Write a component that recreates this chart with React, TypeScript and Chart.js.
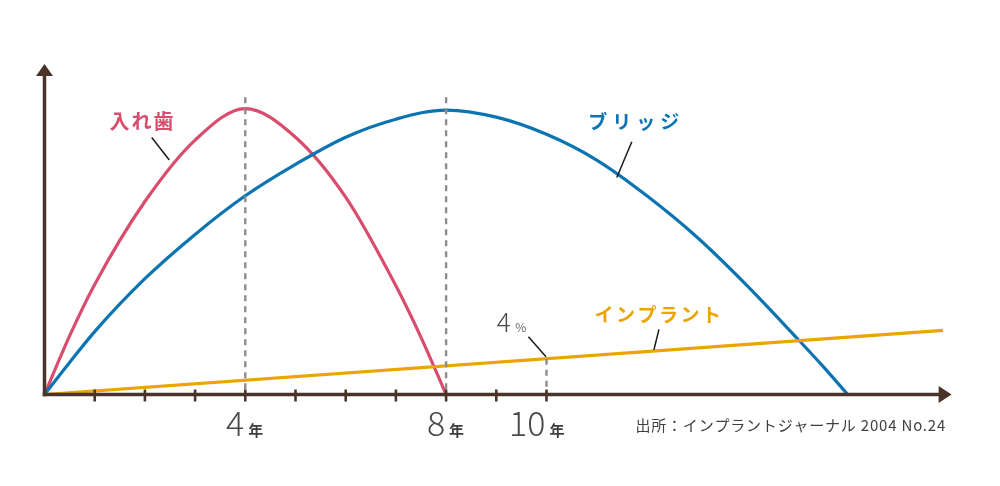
import { useEffect, useRef } from "react";
import { Chart, registerables, Plugin } from "chart.js";

Chart.register(...registerables);

// 入れ歯 (dentures): relative value per year
const dentureYears = [0, 0.5, 1, 2, 3, 4, 5, 6, 7, 7.5, 8];
const dentureValues = [0, 20.5, 38.5, 67.5, 89, 100, 90, 69, 38, 20, 0];

// ブリッジ (bridge)
const bridgeYears = [0, 0.5, 1, 2, 3, 4, 5, 6, 7, 8, 9, 10, 11, 12, 13, 14, 15, 15.5, 16];
const bridgeValues = [0, 11.2, 22, 40.5, 56, 69.5, 80.5, 90, 96.3, 99.5, 97, 91, 82, 69.5, 55, 38, 19.5, 10, 0];

// インプラント (implant)
const implantYears = [0, 17.9];
const implantValues = [0, 22.4];

const tickYears = [1, 2, 3, 4, 5, 6, 7, 8, 9, 10];
const labelYears = [4, 8, 10];
const labelNumbers = ["4", "8", "10"];
const guideYears = [4, 8];
const markerYear = 10;
const markerValue = 12.5;

const RED = "#d84d6e";
const BLUE = "#0b74b1";
const YELLOW = "#eba400";
const AXIS = "#4a3429";
const JP = "'Noto Sans CJK JP', 'Noto Sans', sans-serif";

const toPoints = (xs: number[], ys: number[]) => xs.map((x, i) => ({ x, y: ys[i] }));

const decorations: Plugin<"line"> = {
  id: "decorations",
  afterDatasetsDraw(chart) {
    const { ctx, chartArea } = chart;
    const X = (v: number) => chart.scales.x.getPixelForValue(v);
    const Y = (v: number) => chart.scales.y.getPixelForValue(v);
    const line = (x1: number, y1: number, x2: number, y2: number) => {
      ctx.beginPath();
      ctx.moveTo(x1, y1);
      ctx.lineTo(x2, y2);
      ctx.stroke();
    };
    const text = (
      s: string, x: number, y: number, font: string, color: string,
      align: CanvasTextAlign = "left", baseline: CanvasTextBaseline = "alphabetic", spacing = "0px"
    ) => {
      ctx.font = font;
      ctx.fillStyle = color;
      ctx.textAlign = align;
      ctx.textBaseline = baseline;
      (ctx as any).letterSpacing = spacing;
      ctx.fillText(s, x, y);
      (ctx as any).letterSpacing = "0px";
    };

    ctx.save();

    // dashed guides
    ctx.strokeStyle = "#8d8d8d";
    ctx.lineWidth = 2.4;
    ctx.setLineDash([6, 5]);
    guideYears.forEach((yr) => line(X(yr), Y(104), X(yr), Y(0)));
    line(X(markerYear), Y(markerValue), X(markerYear), Y(0));
    ctx.setLineDash([]);

    // axes with arrow heads
    const x0 = X(0);
    const y0 = Y(0);
    ctx.strokeStyle = AXIS;
    ctx.lineWidth = 3.5;
    line(x0 - 1.75, y0, chartArea.right - 12, y0);
    line(x0, y0 + 1.75, x0, chartArea.top + 11);
    ctx.fillStyle = AXIS;
    ctx.beginPath();
    ctx.moveTo(chartArea.right, y0);
    ctx.lineTo(chartArea.right - 13, y0 - 8.5);
    ctx.lineTo(chartArea.right - 13, y0 + 8.5);
    ctx.closePath();
    ctx.fill();
    ctx.beginPath();
    ctx.moveTo(x0, chartArea.top);
    ctx.lineTo(x0 - 8.5, chartArea.top + 12);
    ctx.lineTo(x0 + 8.5, chartArea.top + 12);
    ctx.closePath();
    ctx.fill();

    // tick marks
    ctx.lineWidth = 2.6;
    tickYears.forEach((yr) => line(X(yr), y0 - 5, X(yr), y0 + 7));

    // year labels
    labelYears.forEach((yr, i) => {
      text(labelNumbers[i], X(yr) - 1, Y(-14.6), `300 34px ${JP}`, "#4a4a4a", "right");
      text("年", X(yr) + 3, Y(-14.4), `bold 15px ${JP}`, "#3e3e3e", "left");
    });

    // leader lines
    ctx.strokeStyle = "#1a1a1a";
    ctx.lineWidth = 1.5;
    line(X(2.136), Y(89.9), X(2.486), Y(82.0));
    line(X(11.7), Y(88.4), X(11.4), Y(75.9));
    line(X(12.24), Y(22.8), X(12.14), Y(15.6));
    line(X(9.64), Y(20.2), X(9.99), Y(13.2));

    // series labels
    text("入れ歯", X(1.95), Y(95.4), `bold 20px ${JP}`, RED, "center", "middle", "2px");
    text("ブリッジ", X(11.79), Y(95.4), `bold 19px ${JP}`, BLUE, "center", "middle", "5px");
    text("インプラント", X(12.24), Y(27.8), `bold 19px ${JP}`, YELLOW, "center", "middle", "2.5px");

    // 4% marker
    text("4", X(9.01), Y(22.0), `300 26px ${JP}`, "#4a4a4a", "left");
    text("%", X(9.38), Y(22.0), `12px ${JP}`, "#6a6a6a", "left");

    // source
    text("出所：インプラントジャーナル 2004 No.24", X(17.96), Y(-12.8), `15px ${JP}`, "#3f3f3f", "right", "alphabetic", "0.8px");

    ctx.restore();
  },
};

export default function App() {
  const canvasRef = useRef<HTMLCanvasElement | null>(null);
  const chartRef = useRef<Chart<"line"> | null>(null);

  useEffect(() => {
    const canvas = canvasRef.current;
    if (!canvas) return;
    const ctx = canvas.getContext("2d");
    if (!ctx) return;
    if (chartRef.current) chartRef.current.destroy();

    const common = { pointRadius: 0, borderWidth: 3.2, cubicInterpolationMode: "monotone" as const, fill: false };

    chartRef.current = new Chart(ctx, {
      type: "line",
      data: {
        datasets: [
          { label: "インプラント", data: toPoints(implantYears, implantValues), borderColor: YELLOW, ...common },
          { label: "ブリッジ", data: toPoints(bridgeYears, bridgeValues), borderColor: BLUE, ...common },
          { label: "入れ歯", data: toPoints(dentureYears, dentureValues), borderColor: RED, ...common },
        ],
      },
      options: {
        animation: false,
        responsive: true,
        maintainAspectRatio: false,
        layout: { padding: { left: 44.5, right: 48.4, top: 64, bottom: 91.5 } },
        scales: {
          x: { type: "linear", min: 0, max: 18.07, display: false },
          y: { type: "linear", min: 0, max: 115.6, display: false },
        },
        plugins: { legend: { display: false }, tooltip: { enabled: false } },
      },
      plugins: [decorations],
    });

    return () => {
      if (chartRef.current) {
        chartRef.current.destroy();
        chartRef.current = null;
      }
    };
  }, []);

  return (
    <div style={{ position: "absolute", left: 0, top: 0, width: 1000, height: 486, background: "#fff" }}>
      <canvas ref={canvasRef} />
    </div>
  );
}
